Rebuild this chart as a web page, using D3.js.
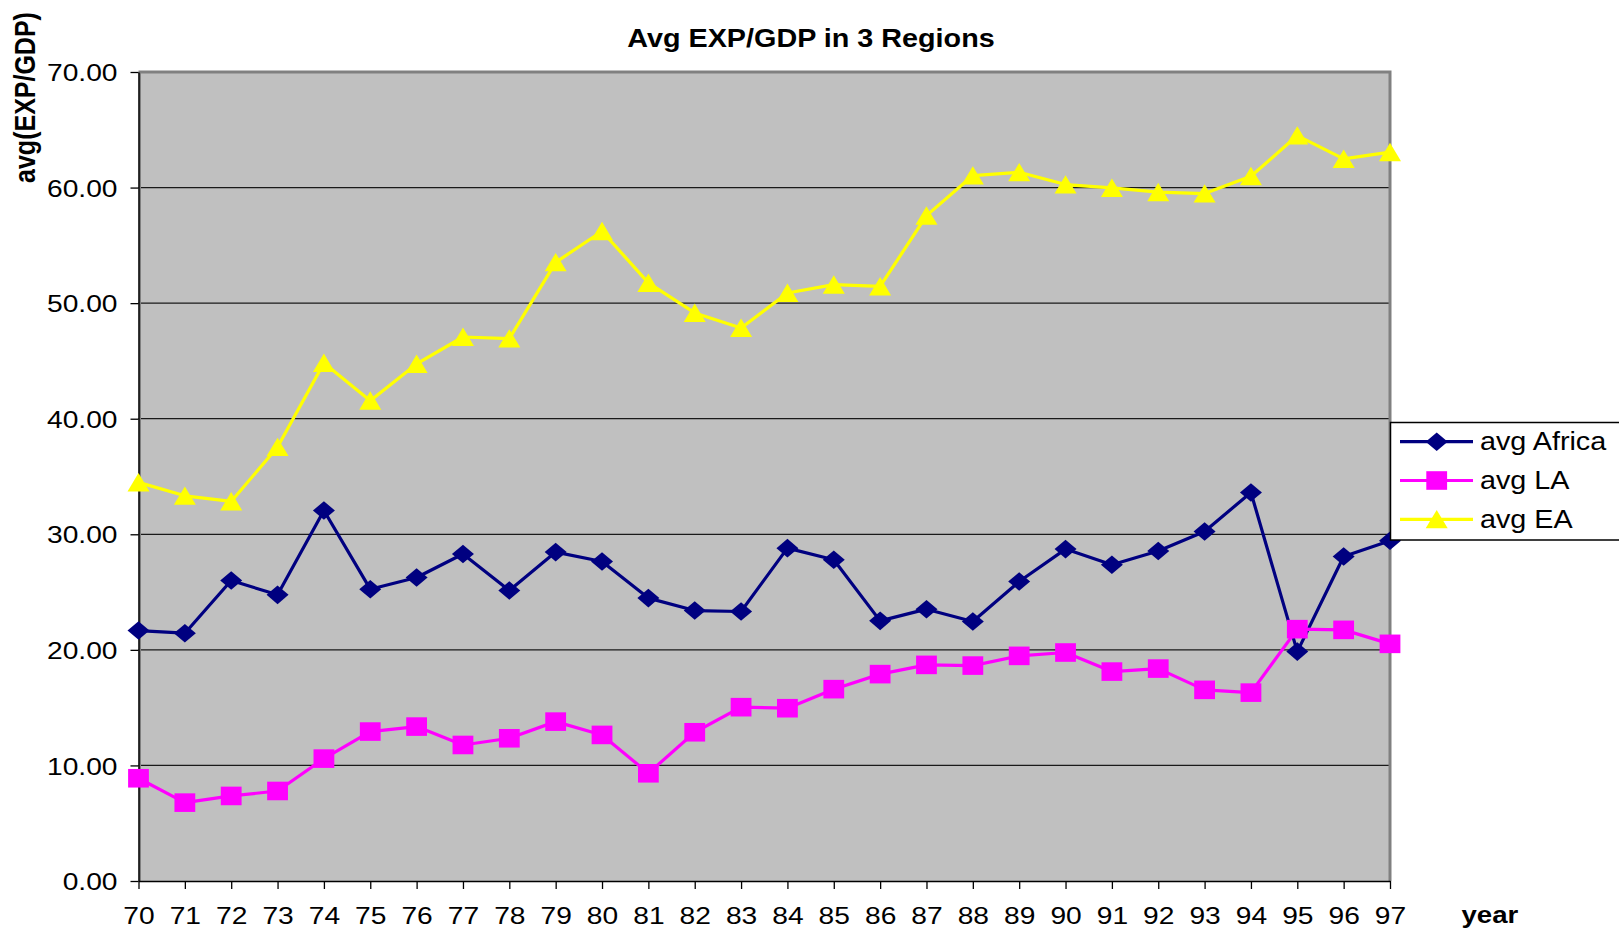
<!DOCTYPE html>
<html>
<head>
<meta charset="utf-8">
<script src="https://cdn.jsdelivr.net/npm/d3@7/dist/d3.min.js"></script>
<style>
  html, body { margin: 0; padding: 0; background: #fff; }
  svg { display: block; font-family: Arial, "Liberation Sans", sans-serif; }
</style>
</head>
<body>
<svg id="chart" width="1619" height="930"></svg>
<script>
// ---------- data ----------
const years = ["70","71","72","73","74","75","76","77","78","79","80","81","82","83","84","85","86","87","88","89","90","91","92","93","94","95","96","97"];
const africa = [21.67,21.44,26.0,24.76,32.06,25.25,26.26,28.29,25.13,28.46,27.65,24.48,23.4,23.32,28.8,27.8,22.51,23.52,22.45,25.91,28.72,27.36,28.55,30.24,33.62,19.85,28.08,29.44];
const la     = [8.89,6.78,7.36,7.79,10.59,12.93,13.36,11.77,12.35,13.79,12.64,9.32,12.87,15.04,14.95,16.6,17.9,18.7,18.64,19.48,19.77,18.12,18.38,16.54,16.3,21.79,21.73,20.52];
const ea     = [34.49,33.33,32.84,37.55,44.82,41.56,44.74,47.07,46.93,53.53,56.22,51.75,49.15,47.85,50.88,51.6,51.45,57.57,61.04,61.32,60.26,59.97,59.6,59.48,60.98,64.5,62.48,63.06];
const yTicks = [0,10,20,30,40,50,60,70];
const seriesNames = ["avg Africa","avg LA","avg EA"];
const seriesColors = ["#000080","#FF00FF","#FFFF00"];
const seriesMarkers = ["diamond","square","triangle"];
const titleText = "Avg EXP/GDP in 3 Regions";
const yTitle = "avg(EXP/GDP)";
const xTitle = "year";

// ---------- layout ----------
const L = 138.5, R = 1390, T = 72, B = 881;
const SX = 1.15; // horizontal stretch of the original picture

const svg = d3.select("#chart");
const x = d3.scalePoint().domain(years).range([L, R]).padding(0);
const y = d3.scaleLinear().domain([0, 70]).range([B, T]);

// plot area
svg.append("rect").attr("x", L).attr("y", T).attr("width", R - L).attr("height", B - T)
  .attr("fill", "#c0c0c0");

// gridlines
svg.append("g").selectAll("line").data(yTicks.filter(d => d > 0 && d < 70)).join("line")
  .attr("x1", L).attr("x2", R).attr("y1", d => y(d)).attr("y2", d => y(d))
  .attr("stroke", "#1a1a1a").attr("stroke-width", 1.3);

// plot border (grey, top & right)
svg.append("path").attr("d", `M${L},${T}H${R}V${B}`).attr("fill", "none")
  .attr("stroke", "#808080").attr("stroke-width", 3);
svg.append("line").attr("x1", L + 1.5).attr("x2", L + 1.5).attr("y1", T).attr("y2", B)
  .attr("stroke", "#808080").attr("stroke-width", 2);

// axes
const yAxis = svg.append("g").attr("transform", `translate(${L},0)`)
  .call(d3.axisLeft(y).tickValues(yTicks).tickFormat(d3.format(".2f")).tickSize(8).tickSizeOuter(0));
yAxis.select(".domain").attr("stroke", "#000").attr("stroke-width", 1.5);
yAxis.selectAll(".tick line").attr("stroke", "#000").attr("stroke-width", 1.3);
yAxis.selectAll(".tick text").attr("x", null).attr("dy", null)
  .attr("transform", `translate(-21,8.7) scale(${SX},1)`)
  .attr("text-anchor", "end").attr("fill", "#000")
  .style("font-size", "24.5px").style("font-family", "Arial, 'Liberation Sans', sans-serif");

const xAxis = svg.append("g").attr("transform", `translate(0,${B})`)
  .call(d3.axisBottom(x).tickSize(8).tickSizeOuter(0));
xAxis.select(".domain").attr("stroke", "#000").attr("stroke-width", 1.5);
xAxis.selectAll(".tick line").attr("stroke", "#000").attr("stroke-width", 1.3);
xAxis.selectAll(".tick text").attr("y", null).attr("dy", null)
  .attr("transform", `translate(0,43) scale(${SX},1)`)
  .attr("text-anchor", "middle").attr("fill", "#000")
  .style("font-size", "24.5px").style("font-family", "Arial, 'Liberation Sans', sans-serif");

// markers
function markerPath(type) {
  if (type === "diamond") return "M0,-9.3L11,0L0,9.3L-11,0Z";
  if (type === "square") return "M-10.4,-9.3H10.4V9.3H-10.4Z";
  return "M0,-9.4L11,9H-11Z";
}

const allSeries = [africa, la, ea];
const line = d3.line().x((d, i) => x(years[i])).y(d => y(d));

allSeries.forEach((vals, si) => {
  const g = svg.append("g");
  g.append("path").attr("d", line(vals)).attr("fill", "none")
    .attr("stroke", seriesColors[si]).attr("stroke-width", 3.2).attr("stroke-linejoin", "round");
  g.selectAll("path.m").data(vals).join("path").attr("class", "m")
    .attr("d", markerPath(seriesMarkers[si]))
    .attr("transform", (d, i) => `translate(${x(years[i])},${y(d)})`)
    .attr("fill", seriesColors[si]);
});

// legend
const lg = svg.append("g");
lg.append("rect").attr("x", 1390.5).attr("y", 422.5).attr("width", 260).attr("height", 117.5)
  .attr("fill", "#fff").attr("stroke", "#000").attr("stroke-width", 1.5);
const rowY = d3.scalePoint().domain(seriesNames).range([441.7, 519.3]);
seriesNames.forEach((name, si) => {
  const cy = rowY(name);
  lg.append("line").attr("x1", 1400).attr("x2", 1473).attr("y1", cy).attr("y2", cy)
    .attr("stroke", seriesColors[si]).attr("stroke-width", 3.2);
  lg.append("path").attr("d", markerPath(seriesMarkers[si]))
    .attr("transform", `translate(1436.7,${cy})`).attr("fill", seriesColors[si]);
  lg.append("text").text(name)
    .attr("transform", `translate(1480,${cy + 8.7}) scale(${SX},1)`)
    .style("font-size", "25px").attr("fill", "#000");
});

// titles
svg.append("text").text(titleText)
  .attr("transform", `translate(811,46.5) scale(${SX},1)`)
  .attr("text-anchor", "middle").style("font-size", "25px").style("font-weight", "bold");

svg.append("text").text(yTitle)
  .attr("transform", `translate(35,97.5) scale(${SX},1) rotate(-90)`)
  .attr("text-anchor", "middle").style("font-size", "25px").style("font-weight", "bold");

svg.append("text").text(xTitle)
  .attr("transform", `translate(1461.5,923) scale(${SX},1)`)
  .attr("text-anchor", "start").style("font-size", "24px").style("font-weight", "bold");
</script>
</body>
</html>
